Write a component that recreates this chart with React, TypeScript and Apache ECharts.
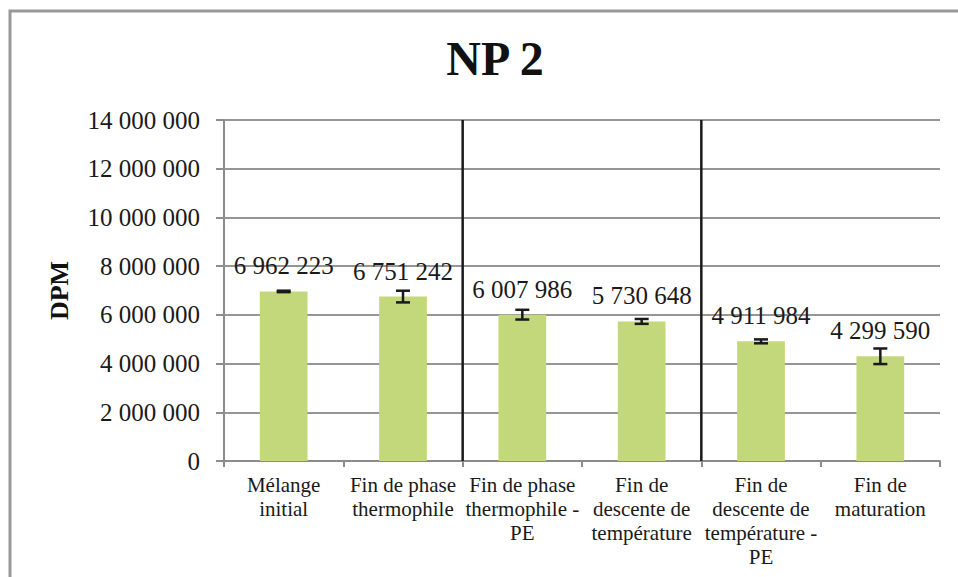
import React, { useEffect, useRef } from "react";
import * as echarts from "echarts";

const categories = [
  "Mélange\ninitial",
  "Fin de phase\nthermophile",
  "Fin de phase\nthermophile -\nPE",
  "Fin de\ndescente de\ntempérature",
  "Fin de\ndescente de\ntempérature -\nPE",
  "Fin de\nmaturation",
];
const values = [6962223, 6751242, 6007986, 5730648, 4911984, 4299590];
const errors = [30000, 240000, 200000, 100000, 80000, 320000];
const separatorPositions = [2, 4];
const yMin = 0;
const yMax = 14000000;
const yInterval = 2000000;

const FONT = "Liberation Serif";
const fmt = (v: number) => String(v).replace(/\B(?=(\d{3})+(?!\d))/g, " ");

export default function App() {
  const ref = useRef<HTMLDivElement>(null);
  useEffect(() => {
    if (!ref.current) return;
    const chart = echarts.init(ref.current, null, { renderer: "svg" });
    const errorData = values.map((v, i) => [i, v - errors[i], v + errors[i]]);
    const sepSeries = separatorPositions.map((p) => ({
      type: "line",
      xAxisIndex: 1,
      yAxisIndex: 0,
      data: [
        [p, yMin],
        [p, yMax],
      ],
      symbol: "none",
      silent: true,
      lineStyle: { color: "#1a1a1a", width: 2.5 },
      z: 5,
    }));
    chart.setOption({
      animation: false,
      backgroundColor: "#ffffff",
      title: {
        text: "NP 2",
        left: 490,
        textAlign: "center",
        top: 29,
        textStyle: { fontFamily: FONT, fontWeight: "bold", fontSize: 48, color: "#111" },
      },
      graphic: [
        {
          type: "rect",
          shape: { x: 10, y: 11, width: 1200, height: 1000 },
          style: { fill: "none", stroke: "#999999", lineWidth: 3 },
          silent: true,
          z: 100,
        },
      ],
      grid: { left: 224, right: 18, top: 120, bottom: 116, containLabel: false },
      xAxis: [
        {
          type: "category",
          data: categories,
          axisLine: { lineStyle: { color: "#8c8c8c", width: 2 } },
          axisTick: { show: true, length: 6, lineStyle: { color: "#8c8c8c", width: 2 } },
          axisLabel: {
            interval: 0,
            margin: 12,
            fontFamily: FONT,
            fontSize: 21,
            lineHeight: 24,
            color: "#1a1a1a",
            align: "center",
          },
        },
        {
          type: "value",
          min: 0,
          max: categories.length,
          show: false,
          position: "bottom",
        },
      ],
      yAxis: {
        type: "value",
        min: yMin,
        max: yMax,
        interval: yInterval,
        name: "DPM",
        nameLocation: "middle",
        nameGap: 152,
        nameRotate: 90,
        nameTextStyle: { fontFamily: FONT, fontWeight: "bold", fontSize: 26, color: "#111" },
        axisLine: { show: true, lineStyle: { color: "#8c8c8c", width: 2 } },
        axisTick: { show: true, length: 8, lineStyle: { color: "#8c8c8c", width: 2 } },
        axisLabel: {
          margin: 24,
          fontFamily: FONT,
          fontSize: 25,
          color: "#1a1a1a",
          formatter: (v: number) => fmt(v),
        },
        splitLine: { lineStyle: { color: "#969696", width: 2 } },
      },
      series: [
        {
          type: "bar",
          data: values,
          barWidth: "40%",
          itemStyle: { color: "#c3d87a" },
          label: {
            show: true,
            position: "top",
            distance: 13,
            fontFamily: FONT,
            fontSize: 25,
            color: "#1a1a1a",
            formatter: (p: any) => fmt(p.value),
          },
          z: 2,
        },
        {
          type: "custom",
          data: errorData,
          z: 4,
          silent: true,
          renderItem: (params: any, api: any) => {
            const idx = api.value(0);
            const lo = api.coord([idx, api.value(1)]);
            const hi = api.coord([idx, api.value(2)]);
            const hw = 7;
            const style = { stroke: "#1a1a1a", lineWidth: 2.5 };
            return {
              type: "group",
              children: [
                { type: "line", shape: { x1: lo[0], y1: lo[1], x2: hi[0], y2: hi[1] }, style },
                { type: "line", shape: { x1: lo[0] - hw, y1: lo[1], x2: lo[0] + hw, y2: lo[1] }, style },
                { type: "line", shape: { x1: hi[0] - hw, y1: hi[1], x2: hi[0] + hw, y2: hi[1] }, style },
              ],
            };
          },
        },
        ...sepSeries,
      ],
    });
    return () => chart.dispose();
  }, []);
  return (
    <div
      ref={ref}
      style={{ position: "fixed", left: 0, top: 0, width: 958, height: 577, background: "#fff" }}
    />
  );
}
